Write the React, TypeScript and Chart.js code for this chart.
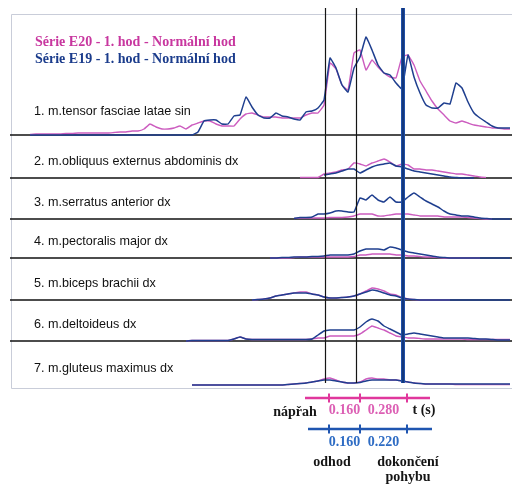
import React, { useEffect, useRef } from "react";
import { Chart, registerables } from "chart.js";

Chart.register(...registerables);

// ---- time base (s) ----
const SAMPLE_START = 0.09;
const SAMPLE_STEP = 0.03;
const SAMPLE_COUNT = 81;
const TIME: number[] = Array.from({ length: SAMPLE_COUNT }, (_, i) => +(SAMPLE_START + SAMPLE_STEP * i).toFixed(3));

const SERIES_NAMES = ["Série E20 - 1. hod - Normální hod", "Série E19 - 1. hod - Normální hod"];
const MUSCLES = [
  "1. m.tensor fasciae latae sin",
  "2. m.obliquus externus abdominis dx",
  "3. m.serratus anterior dx",
  "4. m.pectoralis major dx",
  "5. m.biceps brachii dx",
  "6. m.deltoideus dx",
  "7. m.gluteus maximus dx",
];
// amplitude range of each muscle's panel (relative units)
const PANEL_RANGE = [127, 43, 41, 39, 42, 41, 44];

// phase events (s): nápřah start, odhod, dokončení pohybu
const EVENT_TIMES = [1.565, 1.72, 1.955];
const E20_INTERVALS = ["0.160", "0.280"];
const E19_INTERVALS = ["0.160", "0.220"];
const PHASE_LABELS = ["nápřah", "odhod", "dokončení", "pohybu"];
const TIME_UNIT = "t (s)";

const lead = (n: number, v: (number | null)[]) => [...Array(n).fill(null), ...v];

// ---- EMG envelopes (E20 = pink, E19 = blue) ----
const E20_M1 = [
  0.5, 1, 1, 1, 1, 1, 1.5, 1.5, 2, 2,
  2, 2, 2, 2, 2.5, 3, 3, 4, 4, 6,
  11, 8, 6, 6, 7, 9, 6, 10, 12, 14,
  14, 11, 9, 9, 9, 16, 21, 22, 20, 18,
  18, 18, 17, 17, 17, 17, 20, 22, 22, 30,
  72, 66, 50, 45, 82, 85, 65, 75, 68, 62,
  58, 57, 78, 80, 70, 54, 44, 34, 26, 20,
  14, 12, 14, 12, 10, 9, 8, 7, 7, 6,
  6,
];
const E19_M1 = [
  0, 0, 0, 0, 0, 0, 0, 0, 0, 0,
  0, 0, 0, 0, 0, 0, 0, 0, 0, 0,
  0, 0, 0, 0, 0, 0, 0, 0, 3, 14,
  15, 15, 11, 11, 19, 20, 38, 28, 20, 17,
  17, 22, 19, 18, 16, 15, 23, 24, 27, 35,
  77, 67, 50, 43, 67, 78, 98, 85, 70, 62,
  60, 52, 46, 80, 58, 42, 30, 27, 27, 32,
  31, 52, 47, 33, 22, 17, 13, 9, 7, 7,
  7,
];
const E20_M2 = lead(45, [0.5, 0.5, 0.5, 0.5, 4, 5, 6, 8, 9, 15, 14, 12, 15, 17, 19, 16, 12, 14, 13, 9, 9, 8, 8, 7, 6, 5, 4, 4, 3, 2, 1, 0.5]);
const E19_M2 = lead(49, [3, 4, 5, 7, 9, 9, 5, 8, 11, 13, 14, 15, 12, 11, 9, 7, 6, 5, 4, 3, 2, 1, 0.5, 0, 0, 0]);
const E20_M3 = lead(44, [0.5, 1, 1, 1, 1, 1, 1.5, 1.5, 1.5, 2, 3, 5, 5, 5, 3, 3, 4, 5, 5, 5, 4, 3, 3, 3, 3, 2, 2, 2, 2, 1.5, 1, 0.5, 0, 0]);
const E19_M3 = lead(44, [0.5, 1.5, 1.5, 2, 5, 5, 6, 8, 8, 7, 7, 21, 19, 24, 19, 17, 22, 17, 17, 22, 26, 22, 18, 15, 12, 8, 5, 4, 3, 3, 2, 1, 0.5, 0, 0, 0, 0]);
const E20_M4 = lead(40, [0, 0, 0, 0, 0.5, 1, 1, 1, 1, 1, 1, 1, 1, 1, 1.5, 3, 3, 4, 4, 4, 4, 3, 3, 2, 2, 1.5, 1, 1, 0.5, 0, 0, 0, 0, 0, 0, 0]);
const E19_M4 = lead(40, [0, 0, 0.5, 0.5, 1, 1, 1, 1.5, 1.5, 2, 3, 3, 3, 3, 4, 7, 9, 9, 9, 8, 11, 10, 8, 6, 5, 4, 3, 2, 1, 0.5, 0, 0, 0, 0, 0, 0, 0, 0, 0, 0, 0]);
const E20_M5 = lead(37, [0, 0.5, 1, 2, 4, 5, 6, 7, 8, 8, 6, 5, 3, 2, 2, 2.5, 3, 4, 6, 9, 12, 11, 9, 6, 5, 2.5, 1, 0.5, 0, 0, 0, 0, 0, 0]);
const E19_M5 = lead(37, [0, 0.5, 1, 2, 4, 5, 6, 7, 7, 7, 6, 5, 3, 2, 2, 2.5, 3, 4, 6, 8, 10, 9, 7, 5, 4, 2, 1, 0.5, 0, 0, 0, 0, 0, 0, 0, 0, 0, 0, 0, 0, 0, 0, 0, 0]);
const E20_M6 = lead(26, [0, 0.5, 0.5, 0.5, 0.5, 0.5, 0.5, 0.5, 2, 4, 2, 1.5, 1.5, 1.5, 1.5, 1.5, 1.5, 1.5, 1.5, 1.5, 1.5, 2, 3, 3, 5, 5, 5, 5, 5, 7, 11, 15, 13, 11, 8, 5, 4, 3, 3, 2.5, 2, 2, 2, 2, 2, 2, 2, 1.5, 1.5, 1.5, 1.5, 1.5, 1.5, 1.5, 1.5]);
const E19_M6 = lead(26, [0, 0.5, 0.5, 0.5, 0.5, 0.5, 0.5, 0.5, 2, 4, 2, 1.5, 1.5, 1.5, 1.5, 1.5, 1.5, 1.5, 1.5, 1.5, 1.5, 2, 6, 10, 11, 11, 11, 11, 11, 14, 19, 22, 20, 15, 12, 9, 6, 7, 8, 7, 6, 5, 4, 3, 3, 3, 3, 3, 2.5, 2, 2, 1.5, 1, 1, 1]);
const E20_M7 = lead(27, [0, 0, 0, 0, 0, 0, 0, 0, 0, 0, 0, 0, 0, 0, 0, 0, 0.5, 1, 1.5, 2, 3, 4, 6, 7, 5, 3, 2, 2, 3, 6, 7, 6, 6, 5, 5, 4, 3, 2, 1.5, 1, 1, 1, 1, 1, 0.5, 0.5, 0.5, 0.5, 0.5, 0.5, 0.5, 0.5, 0.5, 0.5]);
const E19_M7 = lead(27, [0, 0, 0, 0, 0, 0, 0, 0, 0, 0, 0, 0, 0, 0, 0, 0, 0.5, 1, 1.5, 2, 3, 4, 5, 5, 4, 3, 2, 2, 2.5, 4, 5, 5, 5, 5, 5, 4, 3, 2, 1.5, 1, 1, 1, 1, 1, 1, 1, 1, 1, 1, 1, 1, 1, 1, 1]);

const E20_SERIES = [E20_M1, E20_M2, E20_M3, E20_M4, E20_M5, E20_M6, E20_M7];
const E19_SERIES = [E19_M1, E19_M2, E19_M3, E19_M4, E19_M5, E19_M6, E19_M7];

const PINK = "#cc5cbf";
const BLUE = "#1f3f8f";

const toPoints = (vals: (number | null)[]) => vals.map((v, i) => ({ x: TIME[i], y: v }));

const overlay = {
  id: "overlay",
  beforeDraw(chart: any) {
    const { ctx, width, height } = chart;
    ctx.save();
    ctx.fillStyle = "#ffffff";
    ctx.fillRect(0, 0, width, height);
    // scanned frame
    ctx.strokeStyle = "#c9cdd9";
    ctx.lineWidth = 1;
    ctx.beginPath();
    ctx.moveTo(width, 14.5);
    ctx.lineTo(11.5, 14.5);
    ctx.lineTo(11.5, 388.5);
    ctx.lineTo(width, 388.5);
    ctx.stroke();
    ctx.restore();
  },
  beforeDatasetsDraw(chart: any) {
    const { ctx, width } = chart;
    ctx.save();
    ctx.strokeStyle = "#111111";
    ctx.lineWidth = 1.5;
    for (let k = 0; k < MUSCLES.length - 1; k++) {
      const s = chart.scales["m" + (k + 1)];
      ctx.beginPath();
      ctx.moveTo(10, s.bottom);
      ctx.lineTo(width, s.bottom);
      ctx.stroke();
    }
    ctx.restore();
  },
  afterDatasetsDraw(chart: any) {
    const { ctx, chartArea } = chart;
    const xs = chart.scales.x;
    const px = EVENT_TIMES.map((t) => Math.round(xs.getPixelForValue(t)));
    ctx.save();
    // event lines
    ctx.strokeStyle = "#151515";
    ctx.lineWidth = 1.2;
    for (let i = 0; i < 2; i++) {
      ctx.beginPath();
      ctx.moveTo(px[i] + 0.5, chartArea.top);
      ctx.lineTo(px[i] + 0.5, chartArea.bottom - 2);
      ctx.stroke();
    }
    ctx.strokeStyle = "#1f4fa8";
    ctx.lineWidth = 4;
    ctx.beginPath();
    ctx.moveTo(px[2], chartArea.top);
    ctx.lineTo(px[2], chartArea.bottom - 2);
    ctx.stroke();
    ctx.strokeStyle = "#12306e";
    ctx.lineWidth = 1.5;
    ctx.beginPath();
    ctx.moveTo(px[2], chartArea.top);
    ctx.lineTo(px[2], chartArea.bottom - 2);
    ctx.stroke();

    // muscle labels
    ctx.fillStyle = "#111111";
    ctx.font = "12.6px 'Liberation Sans', Arial, sans-serif";
    ctx.textBaseline = "middle";
    ctx.textAlign = "left";
    MUSCLES.forEach((m, k) => {
      const s = chart.scales["m" + (k + 1)];
      ctx.fillText(m, 34, s.bottom - (k === 0 ? 23 : 16));
    });

    // legend
    ctx.font = "bold 14px 'Liberation Serif', 'Times New Roman', serif";
    ctx.fillStyle = "#c8379f";
    ctx.fillText(SERIES_NAMES[0], 35, 42);
    ctx.fillStyle = "#1b3c8c";
    ctx.fillText(SERIES_NAMES[1], 35, 59);

    // phase time bars
    const drawBar = (y: number, color: string, txtColor: string, labels: string[], off: number, x0: number, x1: number, ly: number) => {
      const ticks = px.map((p) => p + off);
      ctx.strokeStyle = color;
      ctx.lineWidth = 2.5;
      ctx.beginPath();
      ctx.moveTo(x0, y);
      ctx.lineTo(x1, y);
      ctx.stroke();
      ctx.lineWidth = 2;
      ticks.forEach((t) => {
        ctx.beginPath();
        ctx.moveTo(t, y - 4.5);
        ctx.lineTo(t, y + 4.5);
        ctx.stroke();
      });
      ctx.fillStyle = txtColor;
      ctx.textAlign = "center";
      ctx.font = "bold 14px 'Liberation Serif', 'Times New Roman', serif";
      ctx.fillText(labels[0], (ticks[0] + ticks[1]) / 2, ly);
      ctx.fillText(labels[1], (ticks[1] + ticks[2]) / 2, ly);
      return ticks;
    };
    const pt = drawBar(398, "#e0379c", "#dc5fb4", E20_INTERVALS, 4, 305, 430, 410);
    drawBar(429, "#1f55b0", "#2e6cc4", E19_INTERVALS, 4, 308, 432, 442);

    ctx.fillStyle = "#151515";
    ctx.textAlign = "center";
    ctx.font = "bold 14px 'Liberation Serif', 'Times New Roman', serif";
    ctx.fillText(TIME_UNIT, pt[2] + 17, 410);
    ctx.fillText(PHASE_LABELS[0], 295, 412);
    ctx.fillText(PHASE_LABELS[1], 332, 462);
    ctx.fillText(PHASE_LABELS[2], 408, 462);
    ctx.fillText(PHASE_LABELS[3], 408, 477);
    ctx.restore();
  },
};

export default function App() {
  const ref = useRef<HTMLCanvasElement | null>(null);
  useEffect(() => {
    if (!ref.current) return;
    const datasets: any[] = [];
    MUSCLES.forEach((m, k) => {
      datasets.push({
        label: SERIES_NAMES[0] + " – " + m,
        data: toPoints(E20_SERIES[k]),
        yAxisID: "m" + (k + 1),
        borderColor: PINK,
        borderWidth: 1.4,
        pointRadius: 0,
        tension: 0.1,
        clip: false,
        order: 2,
      });
      datasets.push({
        label: SERIES_NAMES[1] + " – " + m,
        data: toPoints(E19_SERIES[k]),
        yAxisID: "m" + (k + 1),
        borderColor: BLUE,
        borderWidth: 1.5,
        pointRadius: 0,
        tension: 0.1,
        clip: false,
        order: 1,
      });
    });
    const scales: any = {
      x: { type: "linear", min: 0, max: 2.5, display: false },
    };
    PANEL_RANGE.forEach((r, k) => {
      scales["m" + (k + 1)] = {
        type: "linear",
        position: "right",
        stack: "emg",
        stackWeight: r,
        weight: k,
        min: 0,
        max: r,
        display: false,
      };
    });
    const chart = new Chart(ref.current, {
      type: "line",
      data: { datasets },
      options: {
        animation: false,
        responsive: false,
        devicePixelRatio: 1,
        layout: { padding: { left: 12, right: 0, top: 8, bottom: 100 } },
        scales,
        plugins: { legend: { display: false }, tooltip: { enabled: false }, title: { display: false } },
      },
      plugins: [overlay],
    });
    return () => chart.destroy();
  }, []);
  return (
    <div style={{ position: "absolute", left: 0, top: 0, width: 512, height: 485, background: "#fff" }}>
      <canvas ref={ref} width={512} height={485} style={{ display: "block" }} />
    </div>
  );
}
